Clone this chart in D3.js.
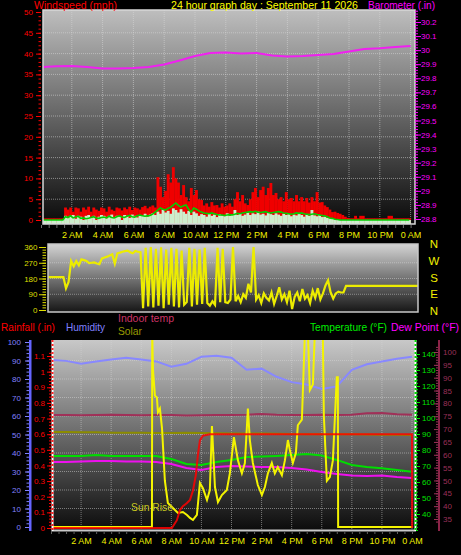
<!DOCTYPE html>
<html>
<head>
<meta charset="utf-8">
<script src="https://cdn.jsdelivr.net/npm/d3@7/dist/d3.min.js"></script>
<style>
html,body{margin:0;padding:0;background:#000;}
svg{display:block;}
text{font-family:"Liberation Sans",Arial,Helvetica,sans-serif;}
</style>
</head>
<body>
<svg id="chart" width="461" height="555"></svg>
<script>
// ---------------- DATA ----------------
const windStepHours = 1 / 6; // 10-minute samples
const windGust = [
  0.4,0.4,0.4,0.4,0.4,0.4,0.4,0.4,0.4,
  3,2.5,3,2,3,2.8,2,3,2.5,3.2,2,3,2.5,2.2,3,2.8,2,3.2,2.5,2.2,3,2.8,2.3,3,2.6,3.2,2.4,3,2.8,2.5,3.1,3.4,2.8,3.2,3.5,
  3,10.3,8,5.5,7,11,9,12.7,10,9,6,8.4,5.5,4.5,7.7,6,7.2,5,4.8,3.5,4,3.2,4.3,3.5,3.6,3,4,3.2,3.5,4,3.2,5,6.7,4.5,6,4,
  3.6,5,6.7,7.7,5.5,7.2,8,6,7.7,8.9,6,6.5,5,5.5,4.5,6.7,5,5.3,4.5,6,4.5,5.5,4.5,5.3,4.2,5.5,4.5,6.7,4.2,4.3,3.5,3.1,
  2.5,1.9,2,1.7,1.5,1.2,0.8,0.5,
  0.4,0.4,1.0,0.4,1.0,1.0,0.4,0.4,0.4,0.4,0.4,0.4,0.4,0.4,0.4,1.0,1.0,0.4,0.4,0.4,0.4,0.4,0.4,0.4
];
const windAvg = [
  0,0,0,0,0,0,0,0,0,
  0.8,0.6,1.0,0.5,0.7,0.9,0.4,0.5,0.3,0.4,0.6,0.8,0.5,0.4,0.6,0.7,0.5,0.9,0.6,0.5,0.8,1.0,0.7,0.6,0.9,1.1,0.8,0.7,1.0,1.2,1.0,0.9,1.0,1.1,1.4,1.9,
  2.4,2.9,2.6,2.4,2.8,3.1,3.6,4.1,3.5,3.1,3.4,3.6,2.6,1.9,2.9,2.6,2.2,1.9,
  1.7,1.6,1.5,1.7,1.5,1.3,1.2,1.2,1.1,1.2,1.3,1.2,1.4,1.6,1.5,1.7,1.8,1.9,2.0,1.9,2.1,1.9,1.8,1.9,2.0,1.8,1.7,1.8,1.9,2.0,
  1.9,1.7,1.6,1.5,1.4,1.5,1.7,1.6,1.7,1.5,1.4,1.3,1.4,1.5,1.3,1.2,1.1,1.0,0.8,0.5,0.4,0.2,0.1,
  0,0,0,0,0,0,0,0,0,0,0,0,0,0,0,0,0,0,0,0,0,0,0,0,0,0,0,0
];
const windSpeed = [
  0,0,0,0,0,0,0,0,0,
  1,0.5,1,1.2,0.3,1,0.8,0,1,1.2,0.5,1,0,0.8,1.2,1,0.4,1,1.3,0.6,1,0.8,0,1.2,1,0.5,1.3,1,0.6,1.2,1,1.5,0.8,1.3,1.6,1.2,
  2,1.5,2.5,1.8,2.2,1.5,2.8,2.4,1.8,2.6,2,1.5,2.2,1.2,2,1.6,1,1.4,
  1.2,0.8,1.5,1,1.3,0.7,1.4,1.1,0.9,1.6,1,1.3,2.4,1.2,1.5,1,1.3,1.8,1.2,1.6,1.4,2,1.3,1.5,1.1,1.7,1.4,1.2,1.6,1.3,
  1,1.5,1.2,1.4,0.9,1.3,1.1,1.5,1.2,0.8,1.3,1,2.4,1.1,0.9,1.2,0.7,0.8,0.5,
  0.4,0.3,0.2,0.1,
  0,0,0,0,0,0,0,0,0,0,0,0,0,0,0,0,0,0,0,0,0,0,0,0,0,0,0,0
];
const windDir = [
  188,188,188,188,188,188,188,124,160,280,250,280,255,290,285,280,268,270,272,266,262,295,300,305,312,318,265,324,328,333,336,339,330,324,337,333,330,
  10,355,20,360,15,350,25,358,10,345,30,355,20,350,15,340,30,45,355,20,350,30,345,35,355,40,25,50,30,355,45,350,45,40,60,360,50,80,45,90,70,150,100,360,
  60,85,40,95,70,55,100,35,80,130,60,90,45,110,5,75,100,50,120,65,85,40,110,70,125,60,95,140,170,100,65,95,105,100,100,138,
  138,138,138,138,138,138,138,138,138,138,138,138,138,138,138,138,138,138,138,138,138,138,138,138,138,138,138,138
];
const hourlyTimes = [0,1,2,3,4,5,6,7,8,9,10,11,12,13,14,15,16,17,18,19,20,21,22,23,24];
const barometer = [29.880,29.885,29.887,29.880,29.870,29.870,29.873,29.880,29.898,29.927,29.958,29.980,29.983,29.976,29.980,29.962,29.955,29.958,29.966,29.973,29.990,30.008,30.013,30.022,30.030];
const humidity = [90.3,89.8,88.2,89.5,90.6,91.5,90.5,89.5,86.6,88.2,92.0,92.6,91.5,85.0,85.6,81.2,78.3,77.0,74.6,76.0,84.9,88.0,89.5,91.0,92.0];
const temperature = [76.3,76.3,76.3,76.9,76.3,76.3,76.3,76.3,74.4,71.3,70.6,72.5,73.8,75.6,75.9,76.3,76.9,77.5,76.6,73.8,70.6,69.4,68.6,67.5,66.4];
const dewPoint = [72.5,72.5,72.8,73.1,73.1,72.8,72.8,72.5,71.3,68.8,67.5,69.4,70.0,69.7,69.4,69.4,68.8,67.8,66.3,65.0,64.1,63.8,64.1,63.1,62.5];
const indoorTemp = [75.5,75.5,75.4,75.5,75.6,75.5,75.4,75.5,75.5,75.3,75.4,75.5,75.5,75.6,75.9,75.6,75.5,75.5,75.6,75.5,75.6,76.2,76.3,75.8,75.6];
const solar = [51.4,51.3,51.2,51.2,51.0,51.0,50.9,50.8,50.8,50.9,50.8,50.7,50.6,50.5,50.5,50.4,50.3,50.2,50.3,50.2,50.1,50.0,49.9,49.8,49.7];
const rainTimes = [0,8.04,8.37,8.57,8.77,9.04,9.24,9.44,9.63,9.77,9.90,10.10,10.56,24.0,24.01];
const rainValues = [0,0,0.05,0.115,0.14,0.16,0.18,0.24,0.34,0.47,0.56,0.59,0.60,0.60,0];
const sunTimes = [0,6.71,6.73,6.78,6.91,7.04,7.11,7.24,7.38,7.57,7.77,8.04,8.24,8.44,8.77,9.04,9.24,9.44,9.70,9.90,10.10,10.37,10.56,10.70,10.90,11.10,11.36,11.69,11.89,12.16,12.43,12.69,12.89,13.09,13.22,13.42,13.75,14.02,14.22,14.42,14.68,14.88,15.08,15.35,15.55,15.75,15.88,16.08,16.28,16.41,16.68,16.88,17.08,17.21,17.41,17.54,18.07,18.14,18.34,18.54,18.74,19.0,19.07,19.09,24.05];
const sunValues = [0,0,105,85,71,70,62,64,53.5,25,13,10.8,9.2,7.6,8.1,6.5,4.9,3.8,6.5,23.8,21,14.6,20,54.6,21.6,13.5,17.3,20,29,48.6,36,29,34.6,64,47,34.6,22.7,17.3,21.6,29,34.6,29,32.4,28,36,47,41.6,34.6,40,55,58,105,105,74,77,105,105,60,25,27,36,81,81,0,0];

const windTicks = [0,5,10,15,20,25,30,35,40,45,50];
const baroTicks = [28.8,28.9,29,29.1,29.2,29.3,29.4,29.5,29.6,29.7,29.8,29.9,30,30.1,30.2];
const dirTicks = [0,90,180,270,360];
const dirLetters = ["N","W","S","E","N"];
const humTicks = [0,10,20,30,40,50,60,70,80,90,100];
const rainTicks = [0,0.1,0.2,0.3,0.4,0.5,0.6,0.7,0.8,0.9,1,1.1];
const tempTicks = [40,50,60,70,80,90,100,110,120,130,140];
const indoorTicks = [35,40,45,50,55,60,65,70,75,80,85,90,95,100];
const hourTicks = [2,4,6,8,10,12,14,16,18,20,22,24];
const hourLabels = ["2 AM","4 AM","6 AM","8 AM","10 AM","12 PM","2 PM","4 PM","6 PM","8 PM","10 PM","0 AM"];

// ---------------- DRAWING ----------------
const FONT = '"Liberation Sans",Arial,sans-serif';
const svg = d3.select("#chart");
svg.append("rect").attr("width",461).attr("height",555).attr("fill","#000");
const defs = svg.append("defs");
function addGrad(id, c1, c2){
  const g = defs.append("linearGradient").attr("id",id).attr("x1",0).attr("y1",0).attr("x2",0).attr("y2",1);
  g.append("stop").attr("offset",0).attr("stop-color",c1);
  g.append("stop").attr("offset",1).attr("stop-color",c2);
}
function addClip(id,p){
  defs.append("clipPath").attr("id",id).append("rect")
    .attr("x",p.x0).attr("y",p.y0).attr("width",p.x1-p.x0).attr("height",p.y1-p.y0);
}
addGrad("bg1","#bebebe","#0a0a0a");
addGrad("bg2","#d4d4d4","#161616");
addGrad("bg3","#c8c8c8","#0c0c0c");

function styleAxis(g, color, size){
  g.select(".domain").remove();
  g.attr("font-family",FONT);
  g.selectAll("line").attr("stroke",color);
  g.selectAll("text").attr("fill",color).attr("font-size",size).attr("font-family",FONT);
  return g;
}
function minorAxis(axisFn, scale, vals, size, color, tx, ty){
  const g = svg.append("g").attr("transform",`translate(${tx},${ty})`)
    .call(axisFn(scale).tickValues(vals).tickSize(size).tickFormat(""));
  g.select(".domain").remove();
  g.selectAll("line").attr("stroke",color);
  return g;
}
function txt(s,x,y,color,size,len,anchor){
  const t = svg.append("text").attr("x",x).attr("y",y).attr("fill",color)
    .attr("font-size",size).attr("font-family",FONT).text(s);
  if(len) t.attr("textLength",len).attr("lengthAdjust","spacingAndGlyphs");
  if(anchor) t.attr("text-anchor",anchor);
  return t;
}
const fmt1 = d => String(+d.toFixed(2));

// ======= PANEL 1: wind speed & barometer =======
const P1 = {x0:43,x1:415,y0:10,y1:224};
addClip("c1",P1);
const xTop = d3.scaleLinear().domain([0,24]).range([41,410.6]);
const yWind = d3.scaleLinear().domain([0,50]).range([220,12]);
const yBaro = d3.scaleLinear().domain([28.8,30.2]).range([219,22]);

svg.append("rect").attr("x",P1.x0).attr("y",P1.y0).attr("width",P1.x1-P1.x0).attr("height",P1.y1-P1.y0).attr("fill","url(#bg1)");
const g1 = svg.append("g").attr("clip-path","url(#c1)");
g1.selectAll(".hg").data(windTicks.slice(1,-1)).join("line")
  .attr("x1",P1.x0).attr("x2",P1.x1).attr("y1",d=>yWind(d)).attr("y2",d=>yWind(d))
  .attr("stroke","#d8d8d8").attr("stroke-opacity",0.55).attr("stroke-dasharray","1,1");
g1.selectAll(".vg").data(hourTicks).join("line")
  .attr("x1",d=>xTop(d)).attr("x2",d=>xTop(d)).attr("y1",P1.y0).attr("y2",P1.y1)
  .attr("stroke","#d8d8d8").attr("stroke-opacity",0.55).attr("stroke-dasharray","1,1");

const bw = xTop(windStepHours)-xTop(0);
g1.selectAll(".gust").data(windGust).join("rect")
  .attr("x",(d,i)=>xTop(i*windStepHours)).attr("width",bw+0.3)
  .attr("y",d=>yWind(d)).attr("height",d=>P1.y1-yWind(d)).attr("fill","#f00000");
g1.selectAll(".spd").data(windSpeed).join("rect")
  .attr("x",(d,i)=>xTop(i*windStepHours)).attr("width",bw+0.3)
  .attr("y",d=>yWind(d)).attr("height",d=>P1.y1-yWind(d)).attr("fill","#cdeecd");
g1.append("path").datum(windAvg)
  .attr("d",d3.line().x((d,i)=>xTop(i*windStepHours+windStepHours/2)).y(d=>yWind(d)))
  .attr("fill","none").attr("stroke","#00d000").attr("stroke-width",1.6);
g1.append("path").datum(barometer)
  .attr("d",d3.line().x((d,i)=>xTop(hourlyTimes[i])).y(d=>yBaro(d)))
  .attr("fill","none").attr("stroke","#f020f0").attr("stroke-width",2);
svg.append("rect").attr("x",P1.x0).attr("y",P1.y0).attr("width",P1.x1-P1.x0).attr("height",P1.y1-P1.y0)
  .attr("fill","none").attr("stroke","#d8d8d8").attr("stroke-width",1.5);

// axes panel 1
styleAxis(svg.append("g").attr("transform","translate(41,0)")
  .call(d3.axisLeft(yWind).tickValues(windTicks).tickSize(5).tickPadding(3)), "#ff0000", 8);
minorAxis(d3.axisLeft, yWind, d3.range(0,51,1), 2.5, "#ff0000", 41, 0);
styleAxis(svg.append("g").attr("transform","translate(415,0)")
  .call(d3.axisRight(yBaro).tickValues(baroTicks).tickSize(6).tickPadding(0).tickFormat(fmt1)), "#ff00ff", 8);
minorAxis(d3.axisRight, yBaro, d3.range(0,75).map(k=>28.8+k*0.02), 3, "#ff00ff", 415, 0);
minorAxis(d3.axisBottom, xTop, d3.range(0,49).map(k=>k*0.5), 3, "#707070", 0, 225);
styleAxis(svg.append("g").attr("transform","translate(0,224)")
  .call(d3.axisBottom(xTop).tickValues(hourTicks).tickSize(0).tickPadding(7.6).tickFormat((d,i)=>hourLabels[i])), "#f0f000", 9);

txt("Windspeed (mph)",34,8.5,"#ff0000",10.5,83);
txt("24 hour graph day : September 11 2026",171,8.5,"#ffff00",10.5,187);
txt("Barometer (.in)",368,8.5,"#ff00ff",10.5,67);

// ======= PANEL 2: wind direction =======
const P2 = {x0:48,x1:418,y0:244,y1:312};
addClip("c2",P2);
const xMid = d3.scaleLinear().domain([0,24]).range([48,418]);
const yDir = d3.scaleLinear().domain([0,360]).range([310,247]);
svg.append("rect").attr("x",P2.x0).attr("y",P2.y0).attr("width",P2.x1-P2.x0).attr("height",P2.y1-P2.y0).attr("fill","url(#bg2)");
const g2 = svg.append("g").attr("clip-path","url(#c2)");
g2.selectAll(".hg").data([90,180,270]).join("line")
  .attr("x1",P2.x0).attr("x2",P2.x1).attr("y1",d=>yDir(d)).attr("y2",d=>yDir(d))
  .attr("stroke","#e0e0e0").attr("stroke-opacity",0.45).attr("stroke-dasharray","1,1");
g2.append("path").datum(windDir)
  .attr("d",d3.line().x((d,i)=>xMid(i*windStepHours)).y(d=>yDir(d)))
  .attr("fill","none").attr("stroke","#ecec00").attr("stroke-width",2.2);
svg.append("rect").attr("x",P2.x0).attr("y",P2.y0).attr("width",P2.x1-P2.x0).attr("height",P2.y1-P2.y0)
  .attr("fill","none").attr("stroke","#c8c8c8").attr("stroke-width",1.5);
styleAxis(svg.append("g").attr("transform","translate(46,0)")
  .call(d3.axisLeft(yDir).tickValues(dirTicks).tickSize(7).tickPadding(1.5)), "#dede00", 8);
minorAxis(d3.axisLeft, yDir, d3.range(0,361,15), 3.5, "#dede00", 46, 0);
const yLetter = d3.scalePoint().domain(d3.range(dirLetters.length)).range([248.3,315]);
dirLetters.forEach((L,i)=>txt(L,434,yLetter(i),"#f0f000",11.5,null,"middle"));

// ======= PANEL 3: rain, humidity, temps =======
const P3 = {x0:52,x1:415,y0:340,y1:530};
addClip("c3",P3);
const xBot = d3.scaleLinear().domain([0,24]).range([51,412]);
const yHum = d3.scaleLinear().domain([0,100]).range([527,342]);
const yRain = d3.scaleLinear().domain([0,1.1]).range([528,356]);
const yTemp = d3.scaleLinear().domain([40,140]).range([514,354]);
const yIn = d3.scaleLinear().domain([35,100]).range([519,352]);
svg.append("rect").attr("x",P3.x0).attr("y",P3.y0).attr("width",P3.x1-P3.x0).attr("height",P3.y1-P3.y0).attr("fill","url(#bg3)");
const g3 = svg.append("g").attr("clip-path","url(#c3)");
g3.selectAll(".hg").data(humTicks.slice(1,-1)).join("line")
  .attr("x1",P3.x0).attr("x2",P3.x1).attr("y1",d=>yHum(d)).attr("y2",d=>yHum(d))
  .attr("stroke","#d8d8d8").attr("stroke-opacity",0.5).attr("stroke-dasharray","1,1");
g3.selectAll(".vg").data(hourTicks).join("line")
  .attr("x1",d=>xBot(d)).attr("x2",d=>xBot(d)).attr("y1",P3.y0).attr("y2",P3.y1)
  .attr("stroke","#d8d8d8").attr("stroke-opacity",0.5).attr("stroke-dasharray","1,1");
function hourlyLine(vals, ys, color, w){
  g3.append("path").datum(vals)
    .attr("d",d3.line().x((d,i)=>xBot(hourlyTimes[i])).y(d=>ys(d)))
    .attr("fill","none").attr("stroke",color).attr("stroke-width",w);
}
hourlyLine(humidity, yHum, "#8888ff", 2);
hourlyLine(indoorTemp, yIn, "#a03058", 2);
hourlyLine(solar, yHum, "#8c8c00", 2);
hourlyLine(temperature, yTemp, "#00dd00", 2);
hourlyLine(dewPoint, yTemp, "#ee10ee", 2);
g3.append("path").datum(sunValues)
  .attr("d",d3.line().x((d,i)=>xBot(sunTimes[i])).y(d=>Math.min(yHum(d),527)))
  .attr("fill","none").attr("stroke","#f4f400").attr("stroke-width",2);
g3.append("path").datum(rainValues)
  .attr("d",d3.line().x((d,i)=>xBot(rainTimes[i])).y(d=>yRain(d)))
  .attr("fill","none").attr("stroke","#ff0000").attr("stroke-width",2).attr("stroke-opacity",0.85);

// frame pieces
svg.append("line").attr("x1",P3.x0).attr("x2",P3.x1+1).attr("y1",530.5).attr("y2",530.5).attr("stroke","#c8c8c8").attr("stroke-width",2);
svg.append("line").attr("x1",52.5).attr("x2",52.5).attr("y1",340).attr("y2",531).attr("stroke","#ffffff").attr("stroke-width",2);
svg.append("line").attr("x1",52.5).attr("x2",52.5).attr("y1",340).attr("y2",531).attr("stroke","#ff2020").attr("stroke-width",2).attr("stroke-dasharray","2,2");
svg.append("line").attr("x1",415.5).attr("x2",415.5).attr("y1",340).attr("y2",531).attr("stroke","#ffffff").attr("stroke-width",2);
svg.append("line").attr("x1",415.5).attr("x2",415.5).attr("y1",340).attr("y2",531).attr("stroke","#00e000").attr("stroke-width",2).attr("stroke-dasharray","2,2");
// humidity axis line
svg.append("rect").attr("x",29).attr("y",340).attr("width",2.5).attr("height",191).attr("fill","#6464ff");
// indoor axis line
svg.append("rect").attr("x",438).attr("y",340).attr("width",2).attr("height",191).attr("fill","#8c2448");

styleAxis(svg.append("g").attr("transform","translate(29,0)")
  .call(d3.axisLeft(yHum).tickValues(humTicks).tickSize(4).tickPadding(4)), "#8080ff", 8);
minorAxis(d3.axisLeft, yHum, d3.range(0,101,2), 2.5, "#8080ff", 29, 0);
styleAxis(svg.append("g").attr("transform","translate(51,0)")
  .call(d3.axisLeft(yRain).tickValues(rainTicks).tickSize(4).tickPadding(2).tickFormat(fmt1)), "#ff0000", 8);
minorAxis(d3.axisLeft, yRain, d3.range(0,57).map(k=>k*0.02), 2, "#ff0000", 51, 0);
styleAxis(svg.append("g").attr("transform","translate(416,0)")
  .call(d3.axisRight(yTemp).tickValues(tempTicks).tickSize(4).tickPadding(2)), "#00e000", 8);
minorAxis(d3.axisRight, yTemp, d3.range(30,141,2), 2, "#00e000", 416, 0);
styleAxis(svg.append("g").attr("transform","translate(438,0)")
  .call(d3.axisRight(yIn).tickValues(indoorTicks).tickSize(-4).tickPadding(5)), "#9a3058", 8);
minorAxis(d3.axisRight, yIn, d3.range(34,103,1), -2, "#9a3058", 438, 0);
minorAxis(d3.axisBottom, xBot, d3.range(0,49).map(k=>k*0.5), 3, "#606060", 0, 531);
styleAxis(svg.append("g").attr("transform","translate(0,530)")
  .call(d3.axisBottom(xBot).tickValues(hourTicks).tickSize(0).tickPadding(8).tickFormat((d,i)=>hourLabels[i])), "#f0f000", 9);

txt("Rainfall (.in)",1,331,"#ff0000",10.5,54);
txt("Humidity",66,331,"#8080ff",10.5,39);
txt("Indoor temp",118,322,"#cc3366",10.5,56);
txt("Solar",118,334.5,"#999900",10.5,24);
txt("Temperature (°F)",310,331,"#00ee00",10.5,77);
txt("Dew Point (°F)",391,331,"#ff00ff",10.5,68);
txt("Sun Rise",131,511,"#c8c820",10,42);
</script>
</body>
</html>
